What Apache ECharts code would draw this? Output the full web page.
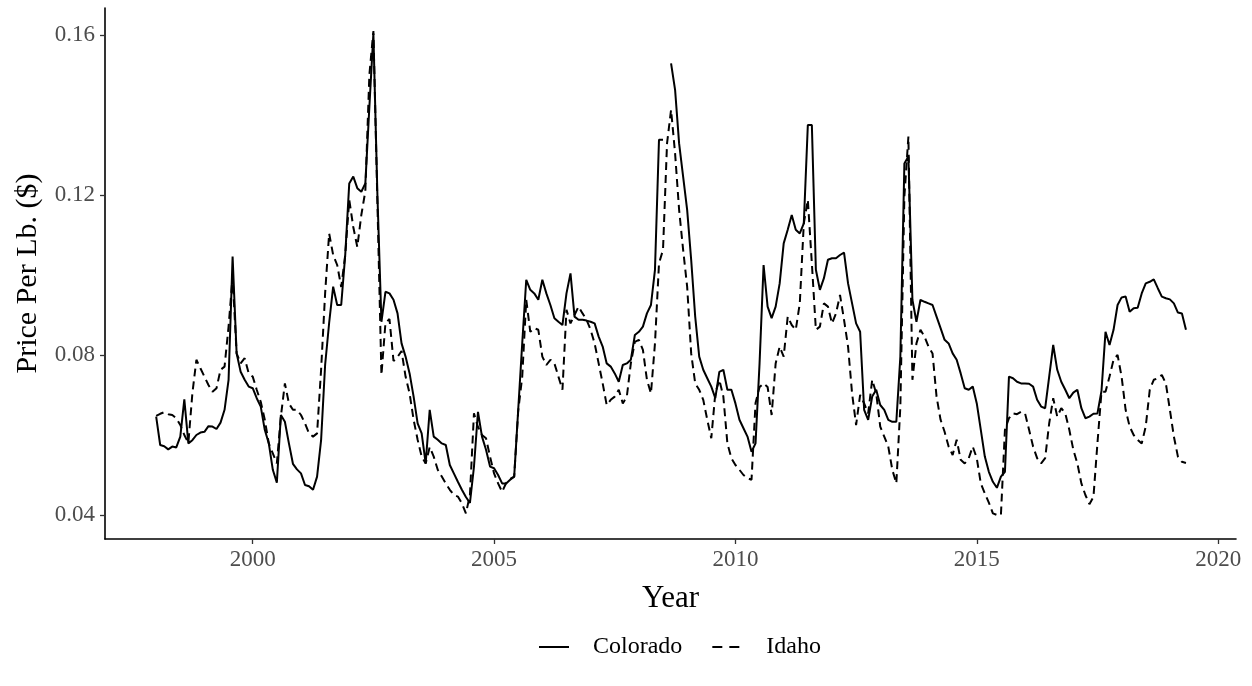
<!DOCTYPE html>
<html>
<head>
<meta charset="utf-8">
<script src="https://cdn.jsdelivr.net/npm/echarts@6/dist/echarts.min.js"></script>
<style>
  html, body { margin: 0; padding: 0; background: #fff; }
  #chart { width: 1252px; height: 686px; }
</style>
</head>
<body>
<div id="chart"></div>
<script>
// Monthly series, first month = January 1998
const startYear = 1998;
const seriesNames = ['Colorado', 'Idaho'];
const colorado = [
  0.0646,0.0575,0.0572,0.0564,0.0571,0.0569,0.0596,0.0689,0.0579,0.0587,0.0600,0.0606,
  0.0608,0.0622,0.0621,0.0615,0.0631,0.0663,0.0738,0.1046,0.0804,0.0758,0.0738,0.0721,
  0.0717,0.0692,0.0671,0.0613,0.0579,0.0513,0.0481,0.0650,0.0633,0.0579,0.0528,0.0514,
  0.0504,0.0475,0.0472,0.0463,0.0496,0.0587,0.0775,0.0880,0.0971,0.0925,0.0925,0.1050,
  0.1229,0.1246,0.1217,0.1208,0.1229,0.1420,0.1604,0.1200,0.0883,0.0958,0.0954,0.0938,
  0.0904,0.0829,0.0796,0.0754,0.0696,0.0629,0.0604,0.0529,0.0663,0.0596,0.0588,0.0579,
  0.0575,0.0525,0.0504,0.0483,0.0463,0.0445,0.0430,0.0520,0.0658,0.0596,0.0563,0.0521,
  0.0517,0.0500,0.0479,0.0479,0.0488,0.0496,0.0663,0.0829,0.0988,0.0963,0.0954,0.0938,
  0.0988,0.0954,0.0925,0.0892,0.0883,0.0875,0.0954,0.1004,0.0896,0.0888,0.0888,0.0886,
  0.0883,0.0879,0.0846,0.0821,0.0779,0.0771,0.0754,0.0733,0.0775,0.0779,0.0788,0.0850,
  0.0858,0.0871,0.0904,0.0925,0.1013,0.1338,0.1338,null,0.1529,0.1463,0.1329,0.1246,
  0.1163,0.1038,0.0896,0.0796,0.0763,0.0742,0.0721,0.0692,0.0758,0.0763,0.0713,0.0713,
  0.0679,0.0638,0.0617,0.0596,0.0558,0.0579,0.0779,0.1025,0.0921,0.0892,0.0921,0.0979,
  0.1079,0.1113,0.1150,0.1113,0.1104,0.1129,0.1375,0.1375,0.1013,0.0963,0.0992,0.1038,
  0.1042,0.1042,0.1050,0.1056,0.0979,0.0929,0.0879,0.0858,0.0663,0.0638,0.0696,0.0713,
  0.0675,0.0663,0.0638,0.0633,0.0633,0.0796,0.1279,0.1296,0.0938,0.0883,0.0938,0.0933,
  0.0929,0.0925,0.0896,0.0867,0.0838,0.0829,0.0804,0.0788,0.0754,0.0717,0.0713,0.0721,
  0.0679,0.0613,0.0546,0.0508,0.0483,0.0468,0.0496,0.0508,0.0746,0.0742,0.0733,0.0729,
  0.0729,0.0728,0.0721,0.0688,0.0671,0.0667,0.0746,0.0825,0.0763,0.0733,0.0713,0.0692,
  0.0706,0.0713,0.0667,0.0642,0.0646,0.0653,0.0654,0.0710,0.0858,0.0825,0.0863,0.0925,
  0.0944,0.0946,0.0908,0.0917,0.0918,0.0954,0.0979,0.0983,0.0989,0.0967,0.0946,0.0942,
  0.0939,0.0929,0.0906,0.0904,0.0863
];
const idaho = [
  0.0648,0.0653,0.0657,0.0652,0.0650,0.0642,0.0625,0.0600,0.0580,0.0704,0.0788,0.0767,
  0.0746,0.0725,0.0708,0.0717,0.0763,0.0771,0.0871,0.0996,0.0804,0.0779,0.0792,0.0754,
  0.0746,0.0713,0.0683,0.0638,0.0579,0.0554,0.0529,0.0646,0.0729,0.0679,0.0663,0.0663,
  0.0650,0.0629,0.0604,0.0596,0.0604,0.0763,0.0954,0.1104,0.1050,0.1025,0.0970,0.1050,
  0.1188,0.1120,0.1070,0.1150,0.1210,0.1500,0.1610,0.1180,0.0750,0.0880,0.0890,0.0785,
  0.0795,0.0810,0.0746,0.0704,0.0638,0.0588,0.0546,0.0529,0.0570,0.0546,0.0513,0.0496,
  0.0479,0.0463,0.0450,0.0446,0.0429,0.0404,0.0450,0.0654,0.0620,0.0600,0.0592,0.0546,
  0.0504,0.0479,0.0458,0.0480,0.0490,0.0496,0.0660,0.0746,0.0938,0.0858,0.0867,0.0863,
  0.0796,0.0775,0.0788,0.0779,0.0746,0.0713,0.0913,0.0879,0.0900,0.0921,0.0904,0.0888,
  0.0863,0.0829,0.0779,0.0729,0.0675,0.0688,0.0696,0.0713,0.0679,0.0696,0.0779,0.0833,
  0.0838,0.0813,0.0738,0.0704,0.0829,0.1029,0.1063,0.1329,0.1413,0.1304,0.1163,0.1063,
  0.0971,0.0804,0.0729,0.0713,0.0688,0.0638,0.0592,0.0704,0.0738,0.0696,0.0579,0.0542,
  0.0525,0.0513,0.0500,0.0492,0.0488,0.0680,0.0720,0.0729,0.0720,0.0650,0.0779,0.0821,
  0.0796,0.0896,0.0875,0.0863,0.0929,0.1129,0.1188,0.1029,0.0863,0.0871,0.0929,0.0921,
  0.0879,0.0904,0.0950,0.0888,0.0821,0.0704,0.0625,0.0700,0.0679,0.0654,0.0738,0.0704,
  0.0621,0.0596,0.0571,0.0513,0.0479,0.0671,0.1196,0.1346,0.0738,0.0829,0.0863,0.0846,
  0.0821,0.0804,0.0696,0.0638,0.0608,0.0571,0.0550,0.0588,0.0538,0.0529,0.0542,0.0571,
  0.0542,0.0479,0.0454,0.0431,0.0404,0.0400,0.0400,0.0613,0.0642,0.0654,0.0652,0.0658,
  0.0654,0.0613,0.0571,0.0542,0.0529,0.0542,0.0629,0.0692,0.0646,0.0667,0.0654,0.0613,
  0.0563,0.0529,0.0479,0.0450,0.0427,0.0445,0.0580,0.0708,0.0708,0.0746,0.0788,0.0800,
  0.0746,0.0663,0.0621,0.0600,0.0588,0.0579,0.0621,0.0713,0.0738,0.0742,0.0750,0.0729,
  0.0663,0.0596,0.0546,0.0533,0.0530
];
const xTicks = [2000, 2005, 2010, 2015, 2020];
const yTicks = [0.04, 0.08, 0.12, 0.16];

const toPairs = arr => arr.map((v, i) => [startYear + i / 12, v]);
const FONT = "'Liberation Serif', 'DejaVu Serif', serif";

const chart = echarts.init(document.getElementById('chart'), null, { renderer: 'canvas' });
chart.setOption({
  animation: false,
  backgroundColor: '#ffffff',
  grid: { left: 105, right: 16, top: 8, bottom: 147, containLabel: false },
  xAxis: {
    type: 'value',
    min: 1996.94,
    max: 2020.37,
    name: 'Year',
    nameLocation: 'middle',
    nameGap: 44,
    nameTextStyle: { fontFamily: FONT, fontSize: 31, color: '#000' },
    axisLine: { show: true, onZero: false, lineStyle: { color: '#000', width: 1.6 } },
    axisTick: { show: true, customValues: xTicks, length: 5, lineStyle: { color: '#333', width: 1.3 } },
    axisLabel: { customValues: xTicks, fontFamily: FONT, fontSize: 23, color: '#4d4d4d', margin: 9,
      formatter: v => String(Math.round(v)) },
    splitLine: { show: false }
  },
  yAxis: {
    type: 'value',
    min: 0.034,
    max: 0.16675,
    name: 'Price Per Lb. ($)',
    nameLocation: 'middle',
    nameGap: 62,
    nameRotate: 90,
    nameTextStyle: { fontFamily: FONT, fontSize: 30, color: '#000' },
    axisLine: { show: true, onZero: false, lineStyle: { color: '#000', width: 1.6 } },
    axisTick: { show: true, customValues: yTicks, length: 5, lineStyle: { color: '#333', width: 1.3 } },
    axisLabel: { customValues: yTicks, fontFamily: FONT, fontSize: 23, color: '#4d4d4d', margin: 10,
      formatter: v => v.toFixed(2) },
    splitLine: { show: false }
  },
  legend: {
    data: [
      { name: seriesNames[0] },
      { name: seriesNames[1], lineStyle: { type: [10, 7] } }
    ],
    left: 533,
    top: 630,
    itemWidth: 30,
    itemHeight: 20,
    itemGap: 29,
    itemStyle: { opacity: 0 },
    textStyle: { fontFamily: FONT, fontSize: 24, color: '#000', padding: [0, 0, 0, 19] }
  },
  series: [
    {
      name: seriesNames[0],
      type: 'line',
      data: toPairs(colorado),
      symbol: 'none',
      connectNulls: false,
      lineStyle: { color: '#000', width: 2, type: 'solid' },
      itemStyle: { color: '#000' }
    },
    {
      name: seriesNames[1],
      type: 'line',
      data: toPairs(idaho),
      symbol: 'none',
      lineStyle: { color: '#000', width: 2, type: [8, 5] },
      itemStyle: { color: '#000' }
    }
  ]
});
</script>
</body>
</html>
